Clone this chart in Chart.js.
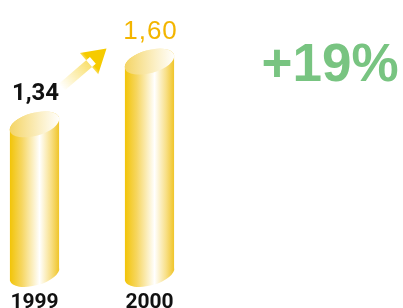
<!DOCTYPE html>
<html>
<head>
<meta charset="utf-8">
<script src="https://cdn.jsdelivr.net/npm/chart.js@4"></script>
<style>
  html, body { margin: 0; padding: 0; background: #fff; }
  #wrap { width: 403px; height: 308px; }
</style>
</head>
<body>
<div id="wrap"><canvas id="growth"></canvas></div>
<script>
const years = ['1999', '2000'];
const values = [1.34, 1.60];
const yMin = 0.72, yMax = 1.82;

const fmt = v => v.toFixed(2).replace('.', ',');
const change = Math.round((values[1] / values[0] - 1) * 100);

// first bar label black, last one gold
const labelColors = ['#111111', '#f3b500'];
const labelFonts = ['bold 24px Roboto', '26px "Liberation Sans"'];

const cylinders = {
  id: 'cylinders',
  afterDatasetsDraw(chart) {
    const ctx = chart.ctx;
    const bars = chart.getDatasetMeta(0).data;
    ctx.save();
    bars.forEach((bar, i) => {
      const rx = bar.width / 2, ry = 11.5, rot = -0.27;
      const cx = bar.x, top = bar.y, base = bar.base;

      const body = ctx.createLinearGradient(cx - rx, 0, cx + rx, 0);
      body.addColorStop(0, '#f2c300');
      body.addColorStop(0.25, '#f6d660');
      body.addColorStop(0.6, '#ffffff');
      body.addColorStop(0.82, '#f8e08a');
      body.addColorStop(1, '#efc21e');
      ctx.beginPath();
      ctx.ellipse(cx, base, rx, ry, rot, 0, Math.PI);
      ctx.ellipse(cx, top, rx, ry, rot, Math.PI, Math.PI * 2);
      ctx.closePath();
      ctx.fillStyle = body;
      ctx.fill();

      const cap = ctx.createLinearGradient(cx - rx, 0, cx + rx, 0);
      cap.addColorStop(0, '#f4d463');
      cap.addColorStop(0.6, '#fbefc4');
      cap.addColorStop(1, '#ffffff');
      ctx.beginPath();
      ctx.ellipse(cx, top, rx, ry, rot, 0, Math.PI * 2);
      ctx.fillStyle = cap;
      ctx.fill();

      ctx.font = labelFonts[i];
      ctx.letterSpacing = i ? '1px' : '0px';
      ctx.fillStyle = labelColors[i];
      ctx.textAlign = 'center';
      ctx.textBaseline = 'middle';
      ctx.fillText(fmt(values[i]), cx + 1, top - 30);
    });

    // arrow between the two labels
    const a = bars[0], b = bars[1];
    const x0 = a.x + 27, y0 = a.y - 37, x1 = b.x - 43, y1 = b.y - 13;
    const ang = Math.atan2(y1 - y0, x1 - x0);
    const len = Math.hypot(x1 - x0, y1 - y0);
    ctx.translate(x0, y0);
    ctx.rotate(ang);
    const g = ctx.createLinearGradient(0, 0, len, 0);
    g.addColorStop(0, 'rgba(245,200,0,0)');
    g.addColorStop(0.6, 'rgba(245,200,0,0.55)');
    g.addColorStop(0.66, '#f6cb00');
    g.addColorStop(1, '#f6cb00');
    ctx.fillStyle = g;
    ctx.beginPath();
    ctx.rect(0, -4.5, len - 18, 9);
    ctx.moveTo(len, 0);
    ctx.lineTo(len - 23, -14);
    ctx.lineTo(len - 23, 14);
    ctx.closePath();
    ctx.fill();
    ctx.restore();
  },
  afterDraw(chart) {
    const ctx = chart.ctx;
    ctx.save();
    ctx.font = 'bold 53px "Liberation Sans"';
    ctx.fillStyle = '#78c481';
    ctx.textAlign = 'center';
    ctx.textBaseline = 'middle';
    ctx.fillText('+' + change + '%', 330, 66);
    ctx.restore();
  }
};

new Chart(document.getElementById('growth'), {
  type: 'bar',
  data: {
    labels: years,
    datasets: [{
      data: values,
      base: yMin,
      backgroundColor: 'transparent',
      barThickness: 51,
      clip: false
    }]
  },
  options: {
    responsive: true,
    maintainAspectRatio: false,
    animation: false,
    layout: { padding: { left: 34.5, right: 253.5, top: 8.5, bottom: 0 } },
    plugins: { legend: { display: false }, tooltip: { enabled: false } },
    scales: {
      x: {
        offset: false,
        grid: { display: false, drawTicks: false },
        border: { display: false },
        ticks: {
          padding: 16,
          color: '#111',
          font: { family: 'Roboto', weight: 'bold', size: 21 }
        },
        afterFit: scale => {
          scale.height = 34;
          scale.paddingLeft = 0;
          scale.paddingRight = 0;
        }
      },
      y: { display: false, min: yMin, max: yMax }
    }
  },
  plugins: [cylinders]
});
</script>
</body>
</html>
